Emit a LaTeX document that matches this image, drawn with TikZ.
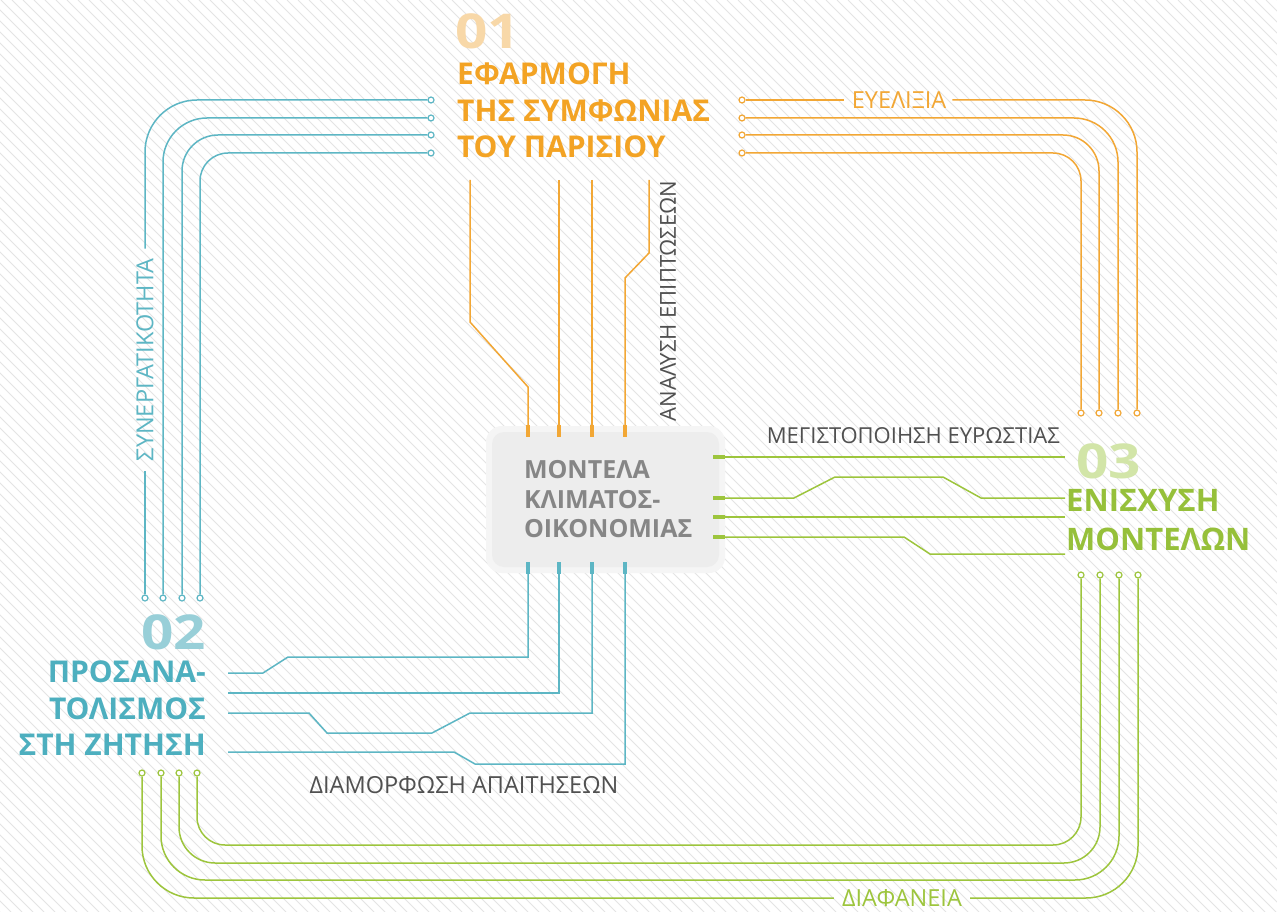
\documentclass[tikz,border=0pt]{standalone}
\usepackage{fontspec}
\setmainfont{Open Sans}
\usetikzlibrary{positioning, calc}
\definecolor{orangeline}{HTML}{F2A735}
\definecolor{orangetitle}{HTML}{F3A324}
\definecolor{orangesoft}{HTML}{F8D8A8}
\definecolor{tealline}{HTML}{5DB6C4}
\definecolor{tealtitle}{HTML}{4DAFBF}
\definecolor{tealsoft}{HTML}{98CFD8}
\definecolor{greenline}{HTML}{9DC53D}
\definecolor{greentitle}{HTML}{96C03A}
\definecolor{greensoft}{HTML}{D2E5A8}
\definecolor{labelgray}{HTML}{505050}
\definecolor{boxtext}{HTML}{868686}
\definecolor{boxfill}{HTML}{EDEDED}
\definecolor{stripegray}{HTML}{E4E4E4}

\tikzset{
  wire/.style={line width=1.5pt},
  owire/.style={wire, draw=orangeline},
  twire/.style={wire, draw=tealline},
  gwire/.style={wire, draw=greenline},
  pad/.style={circle, fill=white, line width=1.2pt, inner sep=0pt, minimum size=6pt},
  stub/.style={line width=3.5pt},
  bigtitle/.style={inner sep=0pt, font=\bfseries\fontsize{30}{36.5}\selectfont},
  bignum/.style={inner sep=0pt, xscale=1.18, transform shape, font=\bfseries\fontsize{48}{48}\selectfont},
  thinlabel/.style={inner sep=0pt, font=\fontsize{23.5}{23.5}\selectfont},
  graylabel/.style={inner sep=0pt, text=labelgray, font=\fontsize{22}{22}\selectfont},
}

\begin{document}
\begin{tikzpicture}[x=1pt, y=-1pt]
  \useasboundingbox (0,0) rectangle (1277,912);
  % striped background
  \fill[white] (0,0) rectangle (1277,912);
  \begin{scope}
    \clip (0,0) rectangle (1277,912);
    \foreach \s in {-912,-901,...,1277}
      \draw[stripegray, line width=1pt] (\s,0) -- ++(912,912);
  \end{scope}

  % central box
  \fill[black!4, rounded corners=16pt] (486,426) rectangle (725,573);
  \node[fill=boxfill, rounded corners=12pt, inner xsep=32pt, text width=163pt,
        minimum height=135pt, align=left, text=boxtext,
        font=\bfseries\fontsize{25}{29.5}\selectfont] (box) at (605.5,499.5)
        {ΜΟΝΤΕΛΑ\\ΚΛΙΜΑΤΟΣ-\\ΟΙΚΟΝΟΜΙΑΣ};

  % titles
  \node[bignum, text=orangesoft, anchor=west] (num1) at (455,31) {01};
  \node[bigtitle, text=orangetitle, anchor=north west, align=left] (title1) at (457,63)
    {ΕΦΑΡΜΟΓΗ\\ΤΗΣ ΣΥΜΦΩΝΙΑΣ\\ΤΟΥ ΠΑΡΙΣΙΟΥ};
  \node[bignum, text=tealsoft, anchor=east] (num2) at (206,632) {02};
  \node[bigtitle, text=tealtitle, anchor=north east, align=right] (title2) at (206,661)
    {ΠΡΟΣΑΝΑ-\\ΤΟΛΙΣΜΟΣ\\ΣΤΗ ΖΗΤΗΣΗ};
  \node[bignum, text=greensoft, anchor=west] (num3) at (1076,461) {03};
  \node[bigtitle, text=greentitle, anchor=north west, align=left,
        font=\bfseries\fontsize{31}{39}\selectfont] (title3) at (1066,489)
    {ΕΝΙΣΧΥΣΗ\\ΜΟΝΤΕΛΩΝ};

  % pads
  \foreach \n/\y in {1/100,2/118,3/135,4/153} {
    \node[pad, draw=tealline] (tp\n) at (431,\y) {};
    \node[pad, draw=orangeline] (rp\n) at (742,\y) {};
  }
  \foreach \n/\x in {1/145,2/163,3/182,4/200}
    \node[pad, draw=tealline] (tb\n) at (\x,598) {};
  \foreach \n/\x in {1/1137,2/1118,3/1099,4/1081}
    \node[pad, draw=orangeline] (rb\n) at (\x,413) {};
  \foreach \n/\x in {1/1081,2/1100,3/1119,4/1138}
    \node[pad, draw=greenline] (gp\n) at (\x,575) {};
  \foreach \n/\x in {1/197,2/179,3/161,4/142}
    \node[pad, draw=greenline] (gq\n) at (\x,773) {};

  % labels
  \node[thinlabel, text=tealline, rotate=90] (lblsyn) at (145,360) {ΣΥΝΕΡΓΑΤΙΚΟΤΗΤΑ};
  \node[thinlabel, text=orangeline] (lblflex) at (899,100) {ΕΥΕΛΙΞΙΑ};
  \node[graylabel, rotate=90] (lblimp) at (668,301) {ΑΝΑΛΥΣΗ ΕΠΙΠΤΩΣΕΩΝ};
  \node[graylabel, anchor=east] (lblrob) at (1060,436) {ΜΕΓΙΣΤΟΠΟΙΗΣΗ ΕΥΡΩΣΤΙΑΣ};
  \node[thinlabel, text=labelgray] (lbldem) at (464,785) {ΔΙΑΜΟΡΦΩΣΗ ΑΠΑΙΤΗΣΕΩΝ};
  \node[thinlabel, text=greenline] (lbltra) at (902,898) {ΔΙΑΦΑΝΕΙΑ};

  % outer rounded buses
  \draw[twire, rounded corners=52pt] (tp1) -| ($(lblsyn.east -| tb1)+(0,-10)$);
  \draw[twire] ($(lblsyn.west -| tb1)+(0,10)$) -- (tb1);
  \draw[twire, rounded corners=44pt] (tp2) -| (tb2);
  \draw[twire, rounded corners=36pt] (tp3) -| (tb3);
  \draw[twire, rounded corners=28pt] (tp4) -| (tb4);

  \draw[owire] (rp1) -- ($(lblflex.west)+(-8,0)$);
  \draw[owire, rounded corners=52pt] ($(lblflex.east)+(6,0)$) -| (rb1);
  \draw[owire, rounded corners=44pt] (rp2) -| (rb2);
  \draw[owire, rounded corners=36pt] (rp3) -| (rb3);
  \draw[owire, rounded corners=28pt] (rp4) -| (rb4);

  \draw[gwire, rounded corners=28pt] (gp1) -- (1081,845) -- (197,845) -- (gq1);
  \draw[gwire, rounded corners=36pt] (gp2) -- (1100,863) -- (179,863) -- (gq2);
  \draw[gwire, rounded corners=44pt] (gp3) -- (1119,880) -- (161,880) -- (gq3);
  \draw[gwire, rounded corners=52pt] (gp4) |- ($(lbltra.east)+(8,0)$);
  \draw[gwire, rounded corners=52pt] ($(lbltra.west)+(-8,0)$) -| (gq4);

  % box terminals
  \foreach \n/\x in {1/528,2/559,3/592,4/625} {
    \coordinate (bt\n) at (\x,0 |- box.north);
    \coordinate (bb\n) at (\x,0 |- box.south);
    \draw[stub, orangeline] ($(bt\n)+(0,-7)$) -- ($(bt\n)+(0,5)$);
    \draw[stub, tealline] ($(bb\n)+(0,-5)$) -- ($(bb\n)+(0,7)$);
  }
  \foreach \n/\y in {1/457,2/498,3/517,4/537} {
    \coordinate (be\n) at (box.east |- 0,\y);
    \draw[stub, greenline] ($(be\n)+(-6,0)$) -- ($(be\n)+(6,0)$);
  }

  % free ends
  \foreach \n/\x in {1/470,2/559,3/592,4/649}
    \coordinate (oe\n) at (\x,180);
  \foreach \n/\y in {1/673,2/693,3/713,4/752}
    \coordinate (te\n) at (228,\y);
  \foreach \n/\y in {1/457,2/498,3/517,4/554}
    \coordinate (ge\n) at (1065,\y);

  % orange feeders
  \draw[owire] (oe1) -- (470,322) -- (528,387) -- (bt1);
  \draw[owire] (oe2) -- (bt2);
  \draw[owire] (oe3) -- (bt3);
  \draw[owire] (oe4) -- (649,253) -- (625,278) -- (bt4);

  % teal feeders
  \draw[twire] (bb1) -- (528,657) -- (288,657) -- (263,673) -- (te1);
  \draw[twire] (bb2) -- (559,693) -- (te2);
  \draw[twire] (bb3) -- (592,713) -- (470,713) -- (432,733) -- (327,733) -- (309,713) -- (te3);
  \draw[twire] (bb4) -- (625,764) -- (475,764) -- (454,752) -- (te4);

  % green feeders
  \draw[gwire] (be1) -- (ge1);
  \draw[gwire] (be2) -- (794,498) -- (835,477) -- (943,477) -- (981,498) -- (ge2);
  \draw[gwire] (be3) -- (ge3);
  \draw[gwire] (be4) -- (904,537) -- (930,554) -- (ge4);
\end{tikzpicture}
\end{document}
